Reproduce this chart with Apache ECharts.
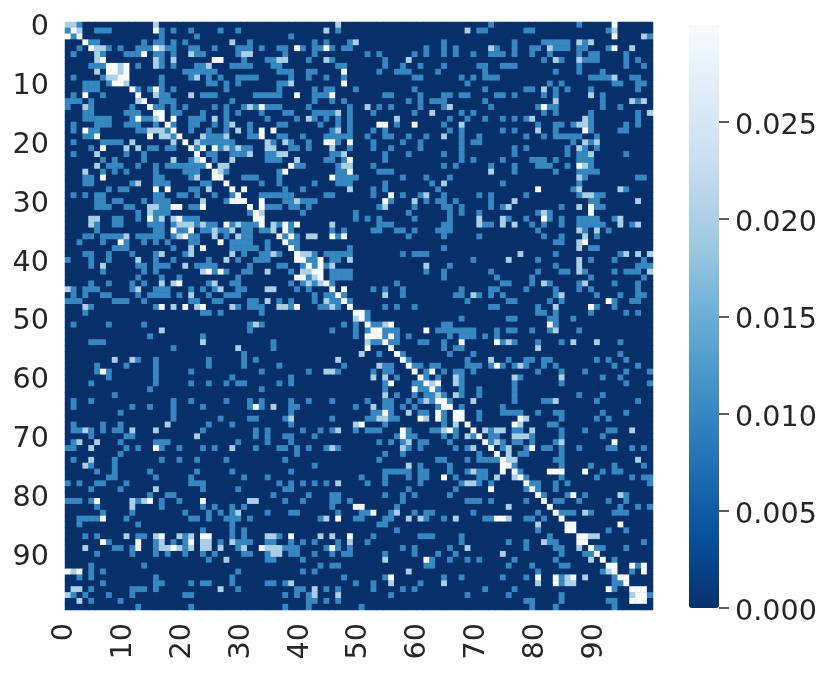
<!DOCTYPE html>
<html>
<head>
<meta charset="utf-8">
<style>html,body{margin:0;padding:0;background:#fff}#chart{width:831px;height:676px}</style>
<script src="https://cdn.jsdelivr.net/npm/echarts@6/dist/echarts.min.js"></script>
</head>
<body>
<div id="chart"></div>
<script>
var categories = [];
for (var n = 0; n < 100; n++) categories.push(String(n));
var colorbarMin = 0, colorbarTop = 0.03, colorbarTickMax = 0.025, colorbarStep = 0.005;

// the cells only take about three levels, listed per row as column numbers
var midValue = 0.01, lightValue = 0.02, highValue = 0.03;
var midCols = [
[2,72,87],[0,5,6,7,16,18,21,26,29,46,70,71,78,79,92],[1,16,22,38,99],[4,5,13,15,16,18,20,31,42,44,48,64,76,81,82,83,84,85,88],
[2,7,9,12,13,14,17,18,21,22,25,29,30,31,33,36,37,40,42,43,45,47,48,61,64,66,73,76,79,80,83,84,85,87,88,92],
[1,6,10,11,12,15,16,18,22,23,29,37,42,51,53,59,61,64,66,69,72,73,74,76,79,82,87,89,90,95],
[16,30,34,35,41,45,54,81,84,88,89,90,95,97],
[4,5,6,12,16,18,22,23,28,29,30,31,35,36,46,47,54,57,60,64,70,71,74,75,76,87,95,98],
[20,21,22,23,24,25,36,37,38,41,42,53,56,57,58,63,71,83,87,91],
[1,6,16,21,24,26,29,30,31,32,38,41,44,47,59,60,67,69,71,72,73,89,90,91,92,96,97],
[3,4,5,7,16,24,25,27,29,36,37,68,82,84,93,94,97,98],
[3,4,5,12,14,16,18,27,36,42,44,45,49,59,71,78,79,83,85,89,97],
[1,6,16,17,23,24,25,32,33,34,35,36,42,43,44,54,55,60,64,65,67,68,73,74,76,81,83,91],
[0,1,2,4,16,17,18,28,42,45,47,58,60,62,63,64,71,91,97],
[0,4,11,15,16,18,20,25,27,30,32,34,35,36,41,48,53,55,60,64,72,80,82,83,91,94],
[3,4,10,11,12,18,19,23,27,29,33,37,38,42,43,44,45,48,52,59,67,69,81,83,89,97],
[3,4,5,6,7,11,13,14,21,22,23,27,34,39,42,44,46,48,65,68,71,74,76,78,89,97],
[1,5,6,7,10,11,12,15,18,21,22,25,27,31,36,37,43,46,48,56,64,80,83,84,86,89,95,97],
[1,4,5,12,13,17,21,24,27,31,45,48,52,54,65,67,74,76,83,89,94,95],
[3,4,18,24,25,26,31,32,36,37,40,44,45,46,47,48,51,54,55,58,61,67,70,78,81,83,84,85,86,87,90],
[1,6,7,8,9,23,24,25,26,27,28,35,38,41,46,52,57,60,67,69,70,86,89],
[4,14,15,17,18,22,26,28,30,31,38,39,41,48,52,55,60,67,76,78,85,88,90],
[1,10,13,24,25,28,29,30,34,35,45,46,54,58,64,67,76,85,87,88,95],
[6,8,13,21,25,34,35,36,44,45,47,54,67,69,74,79,80,81,83,87,88,89],
[7,8,9,12,15,17,18,19,20,21,22,23,39,40,46,52,64,66,72,76,80,81,82,85,89],
[6,8,10,15,20,21,22,27,36,46,47,53,54,55,76,83,87,88,89,90],
[3,4,15,16,21,30,31,32,36,46,47,48,49,57,61,65,88,97,98],
[3,4,11,15,16,17,23,24,33,36,42,46,47,48,54,62,74,87],
[7,9,10,21,22,37,40,52,54,63,86,95],
[1,3,5,6,15,16,19,20,22,25,28,33,34,35,36,37,38,44,45,52,57,60,64,70,72,78,87,90,91],
[5,6,8,9,13,15,16,17,27,37,38,40,41,42,55,61,63,64,66,72,89,90],
[5,6,7,10,11,16,17,21,22,34,35,36,38,39,41,53,59,64,65,67,72,74,84,90,91],
[12,15,16,17,31,40,49,58,65,67,70,80,82],
[8,9,12,15,20,21,22,49,51,53,59,65,75,78,82,84,87,88,89,90,93],
[5,8,9,14,15,16,18,22,24,25,28,30,31,32,36,38,53,54,55,64,65,71,72,79,81,84,87,88,89,90,91,96],
[5,15,16,19,20,23,24,26,27,30,31,33,34,38,45,47,52,53,56,57,59,63,64,65,80,88,92],
[3,4,6,7,8,9,12,13,14,15,16,18,21,22,27,30,31,37,39,46,58,64,70,81,84,90],
[2,6,10,13,15,17,21,22,28,29,30,31,34,38,39,83,84],
[8,9,10,18,28,29,30,31,32,34,39,48,64,89,90],
[3,4,7,11,15,20,30,33,34,36,42,44,45,46,47,48,57,59,60,61,83,94],
[0,4,7,15,18,24,29,32,33,34,41,42,45,46,69,80,89,93,98],
[4,12,13,15,16,17,22,23,24,25,31,36,37,40,42,44,65,83,97,98,99],
[6,13,15,25,27,30,31,38,45,46,47,48,61,64,72,80,84,85,88,93,95,96,97],
[12,16,19,29,41,45,46,47,48,64,73,79,89,98],
[4,7,11,13,24,28,29,38,40,42,45,56,74,75,79,82,87,93,97],
[1,3,4,5,11,15,16,17,21,23,25,29,30,39,41,52,54,57,67,72,73,78,83,87,89,97],
[1,3,6,7,12,14,15,16,17,19,24,27,28,29,42,44,45,47,57,66,67,70,72,74,83,90,94,97,98],
[0,1,2,8,9,10,13,21,22,25,26,31,32,36,38,42,45,46,48,68,75,76,82,84,93,96,97],
[4,15,29,31,32,33,38,43,44,46,54,56,59,72,73,80,90,93],
[3,23,24,26,33,51,80,81,83,89,95,97],
[51,67,75,76,82,83,86],
[1,7,13,31,33,47,49,52,53,64,65,83],
[31,45,49,51,54,55,56,63,64,65,66,67,68,69,73,75,76,79,82,87],
[14,23,49,54,56,58,65,67,68,69,71,73],
[4,5,6,35,52,53,55,56,60,61,64,74,76,80,84,94],
[18,35,64,66,67],
[30,53,57,65,69,94],
[12,15,24,30,32,58,68,75,78,79,81,82,90,92,95],
[5,10,15,24,30,36,47,54,55,59,60,62,63,68,69,70,72,74,76,78,81,83,93,97],
[5,7,15,21,33,41,46,52,54,55,61,64,66,67,69,80,84,88,95,99],
[7,15,28,38,56,61,63,67,77,91,94],
[4,15,21,24,27,29,30,36,38,54,59,60,67,76,84,95,99],
[14,33,54,60,61,63,67,70,76],
[8,56,59,61,62,64,67,70,76,87,91],
[1,4,18,21,27,31,33,38,41,45,51,54,55,58,60,62,65,76,81,82,90,97],
[1,11,14,18,23,31,33,38,39,49,52,54,55,57,59,63,67,74],
[9,18,38,52,53,55,60,61,64,70,74,75,76,77,80,83,84,91,95],
[18,26,31,32,37,45,51,52,55,56,64,70,84,90,92],
[1,6,9,24,28,38,54,64,82,83],
[1,2,4,6,8,9,23,32,34,40,43,45,49,51,52,53,58,62,63,66,72,76,77,84,88,92,93],
[4,10,11,32,34,37,38,42,56,58,59,64,66,69,72,73,79,84,91],
[1,9,15,16,17,29,34,38,53,55,57,60,61,65,72,74,76,77,79,83],
[0,1,10,12,16,19,23,25,32,36,37,39,41,44,46,58,60,66,68,74,78,81,82,84,87,92,93,96,98],
[9,39,54,57,70,77,78,84],
[1,8,16,19,22,27,37,53,63,64,68,70,71,72,73,83,84],
[4,8,42,60,65,76,84,89,93,98],
[5,8,14,22,28,38,54,55,56,57,58,60,61,65,68,70,71,77,91,93,94],
[7,8,15,21,30,34,50,54,58,60,61,66,70,71,78,84,90,96,98,99],
[0,2,5,6,10,21,22,23,36,38,40,42,44,51,54,60,67,70,72,79,80,83,85,99],
[4,9,23,29,37,38,58,66,78,80,83],
[14,17,18,35,41,45,46,54,57,59,65,81,85,88,95],
[0,1,2,4,12,16,19,37,40,45,46,48,57,68,69,70,72,78,83,84,87,92,95],
[5,16,23,25,28,30,45,56,94,97,99],
[6,11,20,24,26,28,34,38,39,46,50,51,55,59,61,62,69,80,84,85,86,89,93,94,95],
[2,3,4,5,10,21,22,24,27,28,29,31,43,49,50,54,55,61,64,71,72,78,79,81],
[2,12,28,53,54],
[23,28,30,56,80,92,95],
[3,5,12,13,20,28,30,36,52,60,61,62,67,82],
[7,15,18,20,26,29,30,31,34,35,38,40,42,46,51,67,75,78,82,83,98],
[8,9,11,15,20,29,37,38,39,44,46,48,57,59,65,78,83,84,90,91,95],
[5,11,15,17,20,23,25,30,31,34,38,39,42,45,47,48,54,59,63,66,84,88,89],
[24,34,35,40,62,65,68,70,76,83,93],
[4,13,43,45,46,61,62,75,79,84,85,97],
[4,6,29,40,42,80,91,96],
[2,4,15,28,47,54,64,67,74,78,84,93],
[6,15,16,21,23,24,28,34,35,37,49,52,60,84,93,94],
[4,11,12,13,15,29,39,40,44,46,52,57,59,71,76,93],
[1,3,7,11,20,21,37,39,41,55,68,75,84,99],
[4,9,41,42,44,46,78,79,84,92,93],
[12,21,37,41,50,79,83,93]
];
var lightCols = [
[0,1,15,46],[2,44,68,93],[98],[28,49,87,89],[5,6,16,72,82,96],[5,21,30,31],[5,15,18,36,37,44,58,83,87],[9,15,24],[5,9],[7,8,22,93],
[10,38],[81],[15,21,89],[12,83,96,98],[3,31,51,65],[46,62,99],[15,25,41,56,79,88],[28,67,87,88],[14,15,16,29,46,80],[16,17,23,27,64],
[11,18,22,34,37,88,90],[10,12,27,29,34,35,45,87],[5,31,36,37,47,89],[18,22,28,39],[5,26,27,47,48,88],[3,26,72],[22,87],[12,64],[24,48,87,94],[61,88,89],
[23,39,59,76,97],[14,15,54,75,87],[14,33,81],[4,5,16,18,70,74,94],[4,19,20,21,23,29,35,45,70,74,76,94,97],[25,28,35,87,90],[10,19,25,29,41,42,88],[87],[21,87],[16,21,28,35,40,41,77,95,97,99],
[12,27,48,75,87],[6,20,45,61,87],[23,34,40,41,87,99],[42],[16,18,25,41,43,81,88],[0,12,26,34,35],[21,54,69,84],[34,44],[3,18,22,28,36,37,45,83],[],
[49],[32,54],[16,83],[],[23,51,75,86,90],[29,80],[50],[8,11,46,72],[53,77],[44,45],
[52,54,66,76,84],[62,66],[],[54,63,66],[61,69,83],[35,52],[58],[38,53,54,61,78],[17,49,66,77],[3,11,15,46,64,71,73,74,79,96],
[22,68,76,77,78],[2,5,58,73,84],[4,28,45,57,69,75],[75],[4,75,76,97],[3,58],[69],[73,76],[46,68,69],[15],
[94],[11,13,31,32],[11,75],[29,56,88],[44,58,60,66,75],[80],[],[10,15,19,21,34,35,43,45,89,90],[16,23,24,28,48,81],[3,16,17,19,21,23,24,26,30,34,35,36,68,87],
[35,36,74],[27,54,89],[],[1,58,92],[85,88],[38,55,64,80,85,86],[1,2,26,42],[0,42,46,96],[2],[]
];
var highCols = [
[93],[1,15],[0,2,93],[3],[4,15,39,44,93],[13],[6,25,26],[7,8,10],[7,8,10,47],[9,10],
[8,9,47],[11,15],[3,12,39,45],[13],[14,33,81],[15,16],[12,16,18],[17,53,54,59],[3,18,33,35,88],[5,14,19,33],
[20,44,45,48],[6,21,23,25],[22],[23,48],[24,38,87],[25,37,48],[6,25,26,45],[27],[15,17,28,30,80],[29,55],
[28,29,30,33,54],[18,19,23,31,33,89],[32,89],[14,19,32,33,81],[27,33,37,39],[18,21,37],[20,36,38,45,47],[9,26,37,88],[23,38],[39],
[39,40,43],[41,43],[24,26,42,43],[39,40,43],[19,44],[45,47],[46],[47,92],[16,20,23,39,48,89],[49,50],
[50],[51,55,82],[52,53,61],[51,52,53,55],[54,67,73],[51,55],[56],[57],[58,73],[6,59,62],
[60],[55,61,63],[59,62],[],[63,64],[32,64,65],[54,63,66,67],[60,63,66,67,77],[50,68,76],[57,65,69],
[57,70],[71,93],[15,72,79],[73],[74],[74,75],[74,76,82,83,84,88],[64,77],[78],[72,79],
[80,86],[5,14,23,81],[49,50,82],[52,83],[6,46,73,74,84],[85,86,94],[85,86],[16,23,24,38,48,87,88],[6,12,21,87,88],[12,18,33,45,89],
[90],[61,91],[92,93,96,98],[0,2,93,98],[55,80,83,86,94,95],[83,95],[92,96,97,98],[97,98],[96,97,98],[]
];

var cells = [];
var grid = {};
function mark(cols, value) {
    cols.forEach(function (list, row) {
        list.forEach(function (col) { grid[row + '_' + col] = value; });
    });
}
mark(midCols, midValue);
mark(lightCols, lightValue);
mark(highCols, highValue);
for (var r = 0; r < 100; r++) {
    for (var c = 0; c < 100; c++) {
        cells.push([c, r, grid[r + '_' + c] || 0]);
    }
}

var textColor = '#262626';
var blues = ['#08306b', '#08519c', '#2171b5', '#4292c6', '#6baed6', '#9ecae1', '#c6dbef', '#deebf7', '#f7fbff'];
var myChart = echarts.init(document.getElementById('chart'));
var option = {
    animation: false,
    textStyle: {fontFamily: 'DejaVu Sans'},
    grid: [
        {left: 65, top: 22, width: 588, height: 588, show: true, backgroundColor: '#08306b', borderWidth: 0},
        // narrow strip right of the colorbar, its split lines are the ticks
        {left: 719, top: 122, width: 10, height: 486}
    ],
    xAxis: [
        {
            type: 'category',
            data: categories,
            gridIndex: 0,
            axisLine: {show: false},
            axisTick: {show: false},
            splitLine: {show: false},
            // small line box + bottom align nudges the rotated text left
            axisLabel: {interval: 9, rotate: 90, fontSize: 28.6, color: textColor, margin: 13, verticalAlign: 'bottom', lineHeight: 6}
        },
        {type: 'value', gridIndex: 1, show: false}
    ],
    yAxis: [
        {
            type: 'category',
            data: categories,
            gridIndex: 0,
            inverse: true,
            axisLine: {show: false},
            axisTick: {show: false},
            splitLine: {show: false},
            axisLabel: {interval: 9, fontSize: 28.6, color: textColor, margin: 16, verticalAlign: 'top', lineHeight: 6}
        },
        {
            type: 'value',
            gridIndex: 1,
            position: 'right',
            min: colorbarMin,
            max: colorbarTickMax,
            interval: colorbarStep,
            axisLine: {show: false},
            axisTick: {show: false},
            splitLine: {show: true, lineStyle: {color: textColor, width: 1.5}},
            axisLabel: {
                fontSize: 28.6,
                color: textColor,
                margin: 6,
                verticalAlign: 'top',
                lineHeight: 9,
                formatter: function (v) { return v.toFixed(3); }
            }
        }
    ],
    visualMap: {
        type: 'continuous',
        seriesIndex: 0,
        min: colorbarMin,
        max: colorbarTop,
        left: 689,
        top: 25,
        padding: 0,
        itemWidth: 30,
        itemHeight: 583,
        calculable: false,
        hoverLink: false,
        text: null,
        inRange: {color: blues}
    },
    series: [{
        type: 'heatmap',
        xAxisIndex: 0,
        yAxisIndex: 0,
        data: cells,
        progressive: 0,
        silent: true,
        itemStyle: {borderWidth: 0}
    }]
};
option && myChart.setOption(option);
</script>
</body>
</html>
